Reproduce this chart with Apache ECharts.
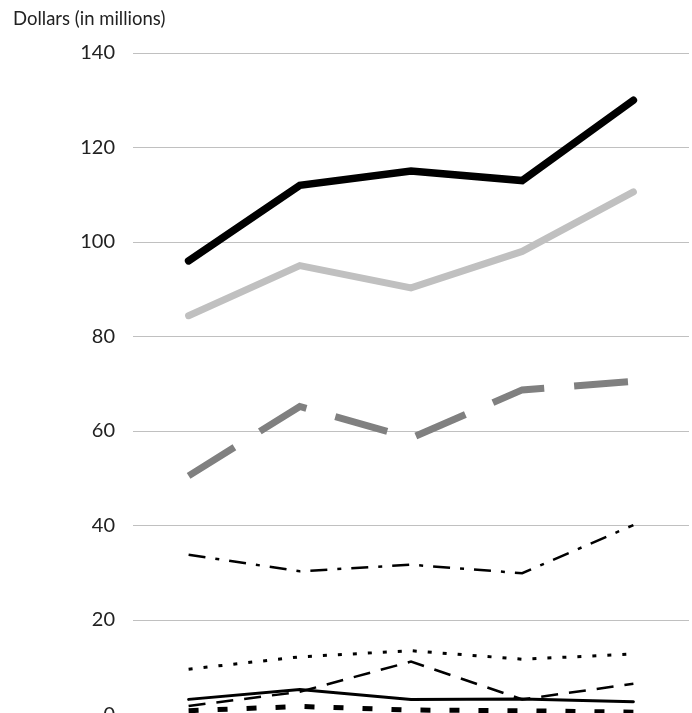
<!DOCTYPE html>
<html>
<head>
<meta charset="utf-8">
<script src="https://cdn.jsdelivr.net/npm/echarts@6/dist/echarts.min.js"></script>
<style>
  html, body { margin: 0; padding: 0; background: #fff; }
  #chart { width: 692px; height: 713px; }
</style>
</head>
<body>
<div id="chart"></div>
<script>
// Five reporting periods along the x axis
const categories = ['2014', '2015', '2016', '2017', '2018'];

// Y axis ticks (dollars, in millions)
const yTicks = [0, 20, 40, 60, 80, 100, 120, 140];

// Series values, in millions of dollars
const totalValues      = [96, 112, 115, 113, 130];
const secondValues     = [84.4, 95, 90.3, 98, 110.6];
const thirdValues      = [50.5, 65.2, 58.5, 68.7, 70.5];
const dashDotValues    = [33.8, 30.3, 31.7, 29.9, 40.1];
const dottedValues     = [9.6, 12.2, 13.5, 11.7, 12.8];
const longDashValues   = [1.8, 4.8, 11.2, 3.2, 6.5];
const solidThinValues  = [3.2, 5.3, 3.2, 3.3, 2.7];
const heavyDashValues  = [0.8, 1.7, 0.95, 0.8, 0.5];

const FONT = 'Lato, "Open Sans", sans-serif';

function lineSeries(name, data, color, width, type, cap) {
  return {
    name: name,
    type: 'line',
    data: data,
    symbol: 'none',
    smooth: false,
    clip: true,
    lineStyle: { color: color, width: width, type: type, cap: cap || 'butt', join: 'miter' }
  };
}

const chart = echarts.init(document.getElementById('chart'), null, { renderer: 'canvas' });

chart.setOption({
  animation: false,
  backgroundColor: '#ffffff',
  title: {
    text: 'Dollars (in millions)',
    left: 8,
    top: 5,
    textStyle: { fontFamily: FONT, fontSize: 18.5, fontWeight: 'normal', color: '#222' }
  },
  // plot area runs past the bottom edge, so the zero line sits just off-canvas
  grid: {
    left: 133, top: 53, width: 556, height: 661.5,
    containLabel: false,
    outerBoundsMode: 'none'
  },
  xAxis: {
    type: 'category',
    data: categories,
    boundaryGap: true,
    axisLine: { show: false },
    axisTick: { show: false },
    axisLabel: { show: false }
  },
  yAxis: {
    type: 'value',
    min: yTicks[0],
    max: yTicks[yTicks.length - 1],
    interval: 20,
    axisLine: { show: false },
    axisTick: { show: false },
    axisLabel: { fontFamily: FONT, fontSize: 20, color: '#222', margin: 18 },
    splitLine: { lineStyle: { color: '#c0c0c0', width: 1 } }
  },
  series: [
    lineSeries('Heavy dash', heavyDashValues, '#000000', 5, [10, 19]),
    lineSeries('Solid thin', solidThinValues, '#000000', 3, 'solid', 'round'),
    lineSeries('Long dash', longDashValues, '#000000', 2.5, [17, 11]),
    lineSeries('Dotted', dottedValues, '#000000', 3, [4, 11]),
    lineSeries('Dash dot', dashDotValues, '#000000', 2.5, [17, 10, 4, 10]),
    lineSeries('Third', thirdValues, '#808080', 7, [54, 30]),
    lineSeries('Second', secondValues, '#c0c0c0', 7, 'solid', 'round'),
    lineSeries('Total', totalValues, '#000000', 7.5, 'solid', 'round')
  ]
});
</script>
</body>
</html>
